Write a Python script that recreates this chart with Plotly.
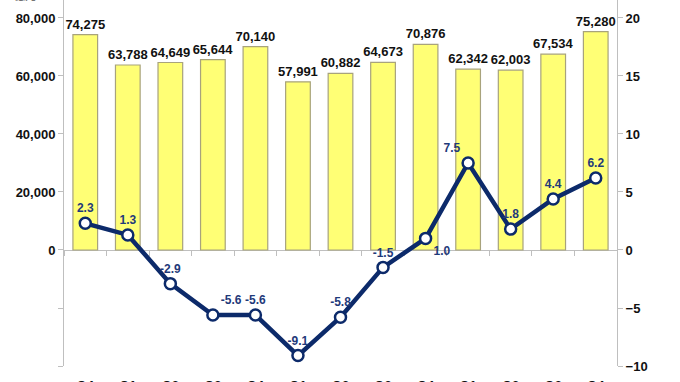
import plotly.graph_objects as go
from plotly.subplots import make_subplots

quarters = ["Q4", "Q1", "Q2", "Q3", "Q4", "Q1", "Q2", "Q3", "Q4", "Q1", "Q2", "Q3", "Q4"]
amounts = [74275, 63788, 64649, 65644, 70140, 57991, 60882, 64673, 70876, 62342, 62003, 67534, 75280]
growth = [2.3, 1.3, -2.9, -5.6, -5.6, -9.1, -5.8, -1.5, 1.0, 7.5, 1.8, 4.4, 6.2]
growth_pos = ["top center", "top center", "top center", "top right", "top center", "top center",
              "top center", "top center", "bottom right", "top left", "top center", "top center", "top center"]
left_ticks = [-40000, -20000, 0, 20000, 40000, 60000, 80000]
left_labels = ["" if v < 0 else f"{v:,}" for v in left_ticks]
right_ticks = [-10, -5, 0, 5, 10, 15, 20]
unit = "億元"

idx = list(range(len(quarters)))
navy = "#0C2A6A"
font = "Liberation Sans, Arial, sans-serif"

fig = make_subplots(specs=[[{"secondary_y": True}]])
fig.add_trace(go.Bar(
    x=idx, y=amounts,
    marker=dict(color="#FFFF75", line=dict(color="#A8A37C", width=1.2)),
    text=[f"{v:,}" for v in amounts], textposition="outside",
    textfont=dict(family=font, size=13, color="#111111", weight="bold"),
    constraintext="none", cliponaxis=False, width=0.58,
), secondary_y=False)
fig.add_trace(go.Scatter(
    x=idx, y=growth, mode="lines+markers+text",
    line=dict(color=navy, width=4.5),
    marker=dict(size=11, color="white", line=dict(color=navy, width=2.5)),
    text=[f"{v:.1f}" for v in growth], textposition=growth_pos,
    textfont=dict(family=font, size=12, color="#1F3A7A", weight="bold"),
    cliponaxis=False,
), secondary_y=True)
# carrier for the category axis drawn along the zero line
fig.add_trace(go.Scatter(x=idx, y=[0] * len(idx), mode="none", hoverinfo="skip",
                         xaxis="x2", yaxis="y", showlegend=False))

ymin, ymax = -40000, 86200
zero_frac = -ymin / (ymax - ymin)
tickfont = dict(family=font, size=13, color="#111111", weight="bold")

fig.update_layout(
    width=680, height=382,
    margin=dict(l=64, r=63, t=0, b=16, autoexpand=False),
    paper_bgcolor="white", plot_bgcolor="white",
    showlegend=False,
    font=dict(family=font, size=13, color="#111111"),
    xaxis=dict(domain=[0, 1], range=[-0.5, 12.5], tickvals=idx, ticktext=quarters, showline=False,
               showgrid=False, zeroline=False, ticks="", ticklabelstandoff=10,
               automargin=False, tickfont=tickfont),
    xaxis2=dict(domain=[0, 1], overlaying="x", anchor="free", position=zero_frac, range=[-0.5, 12.5],
                side="bottom", layer="below traces",
                showline=True, linecolor="#BFBFBF", linewidth=1, ticks="outside",
                ticklen=5, tickcolor="#BFBFBF", tickmode="linear", tick0=-0.5, dtick=1,
                showticklabels=False, showgrid=False, zeroline=False, automargin=False),
    yaxis=dict(range=[ymin, ymax], tickvals=left_ticks, ticktext=left_labels,
               showline=True, linecolor="#BFBFBF", ticks="outside", ticklen=5,
               tickcolor="#BFBFBF", showgrid=False, zeroline=False, automargin=False,
               tickfont=tickfont),
    yaxis2=dict(range=[-10, 21.55], tickvals=right_ticks,
                showline=True, linecolor="#BFBFBF", ticks="outside", ticklen=5,
                tickcolor="#BFBFBF", showgrid=False, zeroline=False, automargin=False,
                tickfont=tickfont),
    annotations=[dict(text=unit, xref="paper", yref="paper", x=-0.07, y=1,
                      xanchor="center", yanchor="bottom", yshift=-5, showarrow=False,
                      font=dict(family="Noto Sans CJK TC", size=11, color="#555555"))],
)
post = ("document.body.style.margin='0';document.body.style.padding='0';"
        "document.body.style.overflow='hidden';"
        "document.documentElement.style.overflow='hidden';")
fig.write_html("out.html", post_script=post,
               config={"responsive": False, "displayModeBar": False})
